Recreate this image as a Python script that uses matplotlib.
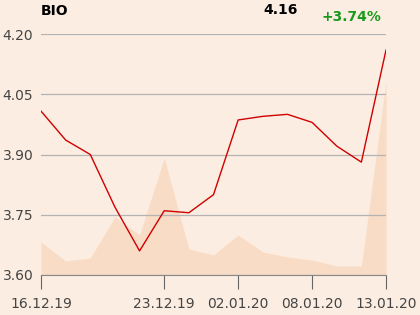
import matplotlib
matplotlib.use("Agg")
import matplotlib.pyplot as plt

# chart data
price = [4.008, 3.936, 3.900, 3.769, 3.660, 3.760, 3.755, 3.800,
         3.986, 3.995, 4.000, 3.980, 3.921, 3.881, 4.160]
volume = [33, 14, 17, 58, 40, 117, 26, 20, 40, 23, 18, 15, 9, 9, 193]
tick_pos = [0, 5, 8, 11, 14]
tick_labels = ["16.12.19", "23.12.19", "02.01.20", "08.01.20", "13.01.20"]
y_ticks = [3.60, 3.75, 3.90, 4.05, 4.20]

bg = "#fbede1"
x = list(range(len(price)))

fig = plt.figure(figsize=(4.2, 3.15), dpi=100, facecolor=bg)
ax = fig.add_axes([41/420, 1 - 275/315, 345/420, 241/315])
ax.set_facecolor(bg)

# volume as background area on a twin axis
ax2 = ax.twinx()
ax2.fill_between(x, volume, 0, color="#f8dcc6", lw=0)
ax2.set_ylim(0, 241)
ax2.axis("off")
ax.set_zorder(ax2.get_zorder() + 1)
ax.patch.set_visible(False)

ax.plot(x, price, color="#d00000", lw=1.0)
ax.set_xlim(0, len(price) - 1)
ax.set_ylim(3.60, 4.20)
ax.set_yticks(y_ticks)
ax.set_yticklabels([f"{v:.2f}" for v in y_ticks])
ax.grid(axis="y", color="#b4b4b4", lw=0.9)
ax.set_axisbelow(True)
ax.set_xticks(tick_pos)
ax.set_xticklabels(tick_labels)

for s in ["left", "right", "top"]:
    ax.spines[s].set_visible(False)
ax.spines["bottom"].set_color("#888888")
ax.tick_params(axis="y", length=0, pad=5.5, labelsize=10, labelcolor="#444444")
ax.tick_params(axis="x", length=10, width=0.8, color="#666666", pad=6,
               labelsize=10, labelcolor="#444444")

fig.text(41/420, 1 - 11/315, "BIO", fontsize=10, fontweight="bold", va="center")
fig.text(281/420, 1 - 10/315, "4.16", fontsize=10, fontweight="bold", va="center", ha="center")
fig.text(351/420, 1 - 17/315, "+3.74%", fontsize=10, fontweight="bold",
         va="center", ha="center", color="#1a9a1a")

fig.savefig("out.png", dpi=100, facecolor=bg)
